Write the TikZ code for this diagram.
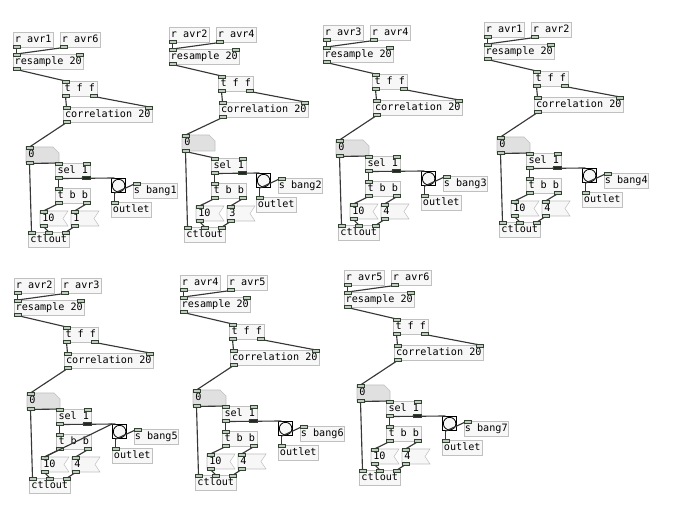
\documentclass[tikz,border=0pt]{standalone}
\usepackage{fontspec}
\newfontfamily\pdmono{DejaVu Sans Mono}
\usetikzlibrary{calc}

\newcommand\pdfont{\pdmono\fontsize{7.6pt}{9pt}\selectfont}

\definecolor{pdedge}{RGB}{192,192,192}
\definecolor{pdfill}{RGB}{247,247,247}
\definecolor{pdnumfill}{RGB}{224,224,224}
\definecolor{pdportline}{RGB}{50,65,50}
\definecolor{pdportfill}{RGB}{190,205,190}
\definecolor{pdwirecol}{RGB}{55,55,55}

\tikzset{
  pdobj/.style={draw=pdedge, fill=pdfill, anchor=north west, inner sep=0pt,
    minimum height=11.25pt, minimum width=#1*0.75pt, font=\pdfont,
    text height=5.6pt, text depth=1.5pt},
  pdleft/.style={anchor=north west, inner xsep=1.5pt, inner ysep=0pt,
    minimum height=11.25pt, text width=#1, align=left, font=\pdfont,
    text height=5.6pt, text depth=1.5pt},
  pdmsg/.style={draw=pdedge, fill=pdfill},
  pdnum/.style={draw=pdedge, fill=pdnumfill},
  pdbang/.style={draw=black, line width=1.1pt, fill=pdfill, anchor=north west,
    inner sep=0pt, minimum size=10.3pt},
  pdport/.style={draw=pdportline, fill=pdportfill, line width=0.4pt},
  pdwire/.style={draw=pdwirecol, line width=0.85pt}
}

% inlets and outlets (7px wide)
\newcommand\pdinL[1]{\draw[pdport] ($(#1.north west)+(0,-1)$) rectangle ++(7,3);}
\newcommand\pdinR[1]{\draw[pdport] ($(#1.north east)+(-7,-1)$) rectangle ++(7,3);}
\newcommand\pdinM[1]{\draw[pdport] ($(#1.north)+(-3.5,-1)$) rectangle ++(7,3);}
\newcommand\pdoutL[1]{\draw[pdport] ($(#1.south west)+(0,1)$) rectangle ++(7,-3);}
\newcommand\pdoutR[1]{\draw[pdport] ($(#1.south east)+(-7,1)$) rectangle ++(7,-3);}

\begin{document}
\begin{tikzpicture}[x=0.75pt,y=-0.75pt]
\useasboundingbox (0,0) rectangle (694,531);
\fill[white] (0,0) rectangle (694,531);
% one correlation patch per pair of averages
\foreach \ox/\oy/\ra/\rb/\val/\n/\bx/\ny in
  {13/32/1/6/1/1/98/115, 169/27/2/4/3/2/87/108, 323/25/3/4/4/3/98/115,
   484/22/1/2/4/4/98/115, 14/278/2/3/4/5/98/115, 180/275/4/5/4/6/98/115,
   344/270/5/6/4/7/98/115}{
\begin{scope}[shift={(\ox,\oy)}]
% receive, resample, trigger, correlation
\node[pdobj=40] (rA\n) at (0,0) {r avr\ra};
\node[pdobj=40] (rB\n) at (47,0) {r avr\rb};
\node[pdobj=70] (res\n) at (0,22) {resample 20};
\node[pdobj=35] (tff\n) at (49,49) {t f f};
\node[pdobj=89] (cor\n) at (50,75) {correlation 20};
% number box (cut corner)
\draw[pdnum] (13,\ny) -- ++(27,0) -- ++(6,6) -- ++(0,10) -- ++(-33,0) -- cycle;
\node[pdleft=21.75pt, minimum height=12pt] (num\n) at (13,\ny) {0};
\node[pdobj=35] (sel\n) at (42,131) {sel 1};
% bang
\node[pdbang] (bang\n) at (\bx,146) {};
\draw[line width=0.6pt] (bang\n.center) circle[radius=4.7pt];
\node[pdobj=44] (snd\n) at (\bx+22,151) {s bang\n};
\node[pdobj=40] (out\n) at (\bx,170) {outlet};
\node[pdobj=35] (tbb\n) at (42,156) {t b b};
% message boxes
\draw[pdmsg] (27,179) -- ++(28,0) -- ++(-5,7.5) -- ++(5,7.5) -- ++(-28,0) -- cycle;
\node[pdleft=18pt] (msgA\n) at (27,179) {10};
\draw[pdmsg] (58,179) -- ++(28,0) -- ++(-5,7.5) -- ++(5,7.5) -- ++(-28,0) -- cycle;
\node[pdleft=18pt] (msgB\n) at (58,179) {\val};
\node[pdobj=41] (ctl\n) at (15,200) {ctlout};
% connections
\draw[pdwire] ($(rA\n.south west)+(3.5,0)$) -- ($(res\n.north west)+(3.5,0)$);
\draw[pdwire] ($(rB\n.south west)+(3.5,0)$) -- ($(res\n.north west)+(3.5,0)$);
\draw[pdwire] ($(res\n.south west)+(3.5,0)$) -- ($(tff\n.north west)+(3.5,0)$);
\draw[pdwire] ($(tff\n.south west)+(3.5,0)$) -- ($(cor\n.north west)+(3.5,0)$);
\draw[pdwire] ($(tff\n.south east)+(-3.5,0)$) -- ($(cor\n.north east)+(-3.5,0)$);
\draw[pdwire] ($(cor\n.south west)+(3.5,0)$) -- ($(num\n.north west)+(3.5,0)$);
\draw[pdwire] ($(num\n.south west)+(3.5,0)$) -- ($(sel\n.north west)+(3.5,0)$);
\draw[pdwire] ($(num\n.south west)+(3.5,0)$) -- ($(ctl\n.north west)+(3.5,0)$);
\draw[pdwire] ($(sel\n.south west)+(3.5,0)$) -- ($(bang\n.north west)+(3.5,0)$);
\draw[pdwire] ($(sel\n.south west)+(3.5,0)$) -- ($(tbb\n.north west)+(3.5,0)$);
\draw[pdwire] ($(bang\n.south west)+(3.5,0)$) -- ($(out\n.north west)+(3.5,0)$);
\draw[pdwire] ($(bang\n.south west)+(3.5,0)$) -- ($(snd\n.north west)+(3.5,0)$);
\draw[pdwire] ($(tbb\n.south west)+(3.5,0)$) -- ($(msgA\n.north west)+(3.5,0)$);
\draw[pdwire] ($(tbb\n.south east)+(-3.5,0)$) -- ($(msgB\n.north west)+(3.5,0)$);
\draw[pdwire] ($(msgA\n.south west)+(3.5,0)$) -- (ctl\n.north);
\draw[pdwire] ($(msgB\n.south west)+(3.5,0)$) -- ($(ctl\n.north east)+(-3.5,0)$);
% ports
\pdoutL{rA\n} \pdoutL{rB\n}
\pdinL{res\n} \pdinR{res\n} \pdoutL{res\n}
\pdinL{tff\n} \pdoutL{tff\n} \pdoutR{tff\n}
\pdinL{cor\n} \pdinR{cor\n} \pdoutL{cor\n}
\pdinL{num\n} \pdoutL{num\n}
\pdinL{sel\n} \pdinR{sel\n} \pdoutL{sel\n}
\draw[pdport, fill=black!85] ($(sel\n.south east)+(-8,1)$) rectangle ++(8,-3);
\pdinL{snd\n} \pdinL{out\n}
\pdinL{tbb\n} \pdoutL{tbb\n} \pdoutR{tbb\n}
\pdinL{msgA\n} \pdoutL{msgA\n} \pdinL{msgB\n} \pdoutL{msgB\n}
\pdinL{ctl\n} \pdinM{ctl\n} \pdinR{ctl\n}
\end{scope}
}
% extra wire in patch 5
\draw[pdwire] (bang5.north west) -- ($(msgA5.north west)+(3.5,0)$);
\end{tikzpicture}
\end{document}
